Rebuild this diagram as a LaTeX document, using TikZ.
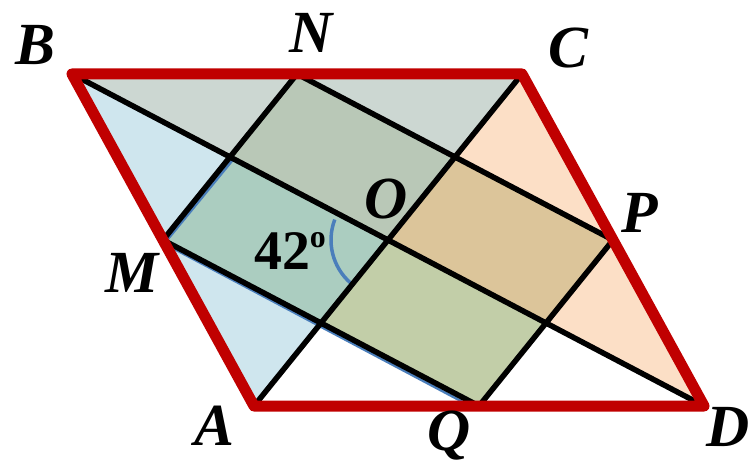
\documentclass[tikz,border=0pt]{standalone}
\usepackage{fontspec}
\setmainfont{Liberation Serif}
\usetikzlibrary{calc}
\definecolor{redframe}{HTML}{C00000}
\definecolor{triblue}{HTML}{CFE6EE}
\definecolor{trigray}{HTML}{CCD7D2}
\definecolor{tripeach}{HTML}{FCDFC6}
\definecolor{cellteal}{HTML}{ABCDC0}
\definecolor{cellgray}{HTML}{B9C8B7}
\definecolor{celltan}{HTML}{DCC59A}
\definecolor{cellolive}{HTML}{C2CEA8}
\definecolor{arcblue}{HTML}{4A7EBB}
\tikzset{
  segline/.style={line width=5.5bp, black, line cap=round},
  frame/.style={line width=11bp, redframe, line join=round, line cap=round},
  edgeblue/.style={line width=2.5bp, arcblue},
  anglearc/.style={line width=3.5bp, arcblue},
  ptlabel/.style={font=\fontsize{60}{60}\selectfont\bfseries\itshape, anchor=base, inner sep=0pt},
  anglelabel/.style={font=\fontsize{56}{56}\selectfont\bfseries, anchor=base west, inner sep=0pt}
}
\begin{document}
\begin{tikzpicture}[x=1bp,y=-1bp]
\useasboundingbox (0,0) rectangle (753,475);
\coordinate (B) at (72,74);
\coordinate (C) at (522,74);
\coordinate (D) at (704,406);
\coordinate (A) at (254,406);
\coordinate (O) at ($(A)!0.5!(C)$);
\coordinate (M) at ($(A)!0.5!(B)$);
\coordinate (N) at ($(B)!0.5!(C)$);
\coordinate (P) at ($(C)!0.5!(D)$);
\coordinate (Q) at ($(A)!0.5!(D)$);
\coordinate (BO) at ($(B)!0.5!(O)$);
\coordinate (CO) at ($(C)!0.5!(O)$);
\coordinate (DO) at ($(D)!0.5!(O)$);
\coordinate (AO) at ($(A)!0.5!(O)$);
% triangles
\fill[triblue] (A) -- (B) -- (O) -- cycle;
\fill[trigray] (B) -- (C) -- (O) -- cycle;
\fill[tripeach] (C) -- (D) -- (O) -- cycle;
% cells of MNPQ
\fill[cellteal] (M) -- (BO) -- (O) -- (AO) -- cycle;
\fill[cellgray] (BO) -- (N) -- (CO) -- (O) -- cycle;
\fill[celltan] (CO) -- (P) -- (DO) -- (O) -- cycle;
\fill[cellolive] (DO) -- (Q) -- (AO) -- (O) -- cycle;
% faint blue edges
\draw[edgeblue] ($(M)+(1,3.5)$) -- ($(Q)+(-2,3.5)$);
\draw[edgeblue] ($(M)+(2.5,2)$) -- ($(BO)+(3.5,2)$);
% angle arc
\draw[anglearc] ($(O)+(131:57)$) arc[start angle=131, end angle=201, radius=57];
% black lines
\draw[segline] (B) -- (D);
\draw[segline] (A) -- (C);
\draw[segline] (M) -- (N);
\draw[segline] (N) -- (P);
\draw[segline] (P) -- (Q);
\draw[segline] (Q) -- (M);
% red frame
\draw[frame] (A) -- (B) -- (C) -- (D) -- cycle;
% labels
\node[ptlabel] (lB) at (35,65) {B};
\node[ptlabel] (lN) at (311,53) {N};
\node[ptlabel] (lC) at (568,68) {C};
\node[ptlabel] (lO) at (386,219) {O};
\node[ptlabel] (lM) at (132,293) {M};
\node[ptlabel] (lP) at (640,233) {P};
\node[ptlabel] (lA) at (214,445) {A};
\node[ptlabel] (lQ) at (449,450) {Q};
\node[ptlabel] (lD) at (728,446) {D};
\node[anglelabel] (ang) at (254,270) {42\raisebox{22bp}{\fontsize{32}{32}\selectfont o}};
\end{tikzpicture}
\end{document}
